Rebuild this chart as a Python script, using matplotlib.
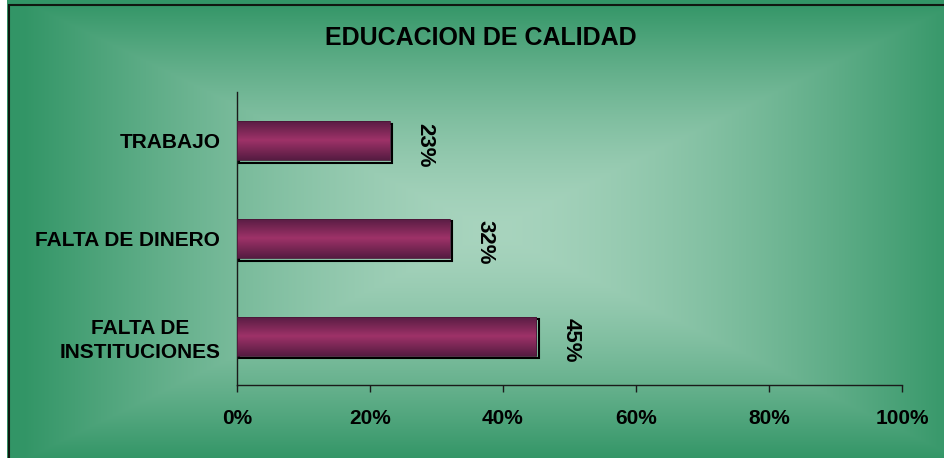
import numpy as np
import matplotlib.pyplot as plt
from matplotlib.colors import LinearSegmentedColormap
from matplotlib.transforms import ScaledTranslation

# data
categorias = ["FALTA DE\nINSTITUCIONES", "FALTA DE DINERO", "TRABAJO"]
valores = [0.45, 0.32, 0.23]
ticks = [0, 0.2, 0.4, 0.6, 0.8, 1.0]
titulo = "EDUCACION DE CALIDAD"

plt.rcParams['font.family'] = ['Liberation Sans', 'DejaVu Sans']
plt.rcParams['font.weight'] = 'bold'

fig = plt.figure(figsize=(9.45, 4.58), dpi=100)
fig.patch.set_facecolor('white')

# green background with rectangular gradient from the centre
bg = fig.add_axes([7 / 945, 0, 1 - 7 / 945, 1])
bg.set_axis_off()
W, H = 938, 458
xx, yy = np.meshgrid(np.arange(W), np.arange(H))
cx, cy = 485, 230
t = np.maximum(np.abs(xx - cx) / (W / 2), np.abs(yy - cy) / (H / 2))
t = np.clip(t, 0, 1) ** 1.5
centro = np.array([168, 212, 190]) / 255
borde = np.array([50, 149, 102]) / 255
img = centro[None, None, :] * (1 - t[..., None]) + borde[None, None, :] * t[..., None]
bg.imshow(img, extent=[0, 1, 0, 1], aspect='auto', origin='upper')
bg.set_xlim(0, 1)
bg.set_ylim(0, 1)
bg.add_patch(plt.Rectangle((2.5 / 938, -0.1), 1.1, 1.1 - 5.5 / 458,
                           fill=False, ec='#101810', lw=1.5))

ax = fig.add_axes([237 / 945, 1 - 385 / 458, 665 / 945, 293 / 458])
ax.set_facecolor('none')

y = np.arange(len(categorias))
sombra = ax.transData + ScaledTranslation(0.025, -0.025, fig.dpi_scale_trans)
ax.barh(y, valores, height=0.4, color='none', edgecolor='black', lw=1.5,
        transform=sombra, zorder=2)
barras = ax.barh(y, valores, height=0.4, color='none', edgecolor='#4a1838',
                 lw=0.6, zorder=4)

cmap = LinearSegmentedColormap.from_list('vino', ['#561c42', '#9e3268', '#561c42'])
grad = np.linspace(0, 1, 100).reshape(-1, 1)
for b in barras:
    x0, y0 = b.get_x(), b.get_y()
    im = ax.imshow(grad, cmap=cmap, aspect='auto', zorder=3,
                   extent=[x0, x0 + b.get_width(), y0, y0 + b.get_height()])
    im.set_clip_path(b)

for yi, v in zip(y, valores):
    ax.annotate(f"{v * 100:.0f}%", (v, yi), xytext=(25, -3),
                textcoords='offset points', rotation=270,
                ha='center', va='center', fontsize=16, fontweight='bold')

ax.set_xlim(0, 1)
ax.set_ylim(-0.5, len(categorias) - 0.5)
ax.set_xticks(ticks)
ax.set_xticklabels([f"{v * 100:.0f}%" for v in ticks], fontsize=15,
                   fontweight='bold')
ax.set_yticks(y)
ax.set_yticklabels(categorias, fontsize=15, fontweight='bold',
                   multialignment='center', linespacing=1.35)
ax.tick_params(axis='x', length=5, width=1, color='#1a1a1a', pad=12)
ax.tick_params(axis='y', length=0, pad=12)
for s in ['top', 'right']:
    ax.spines[s].set_visible(False)
for s in ['left', 'bottom']:
    ax.spines[s].set_color('#1a1a1a')
    ax.spines[s].set_linewidth(1)

fig.text(481 / 945, 1 - 38 / 458, titulo, ha='center', va='center',
         fontsize=18, fontweight='bold')

fig.savefig('out.png', dpi=100)
